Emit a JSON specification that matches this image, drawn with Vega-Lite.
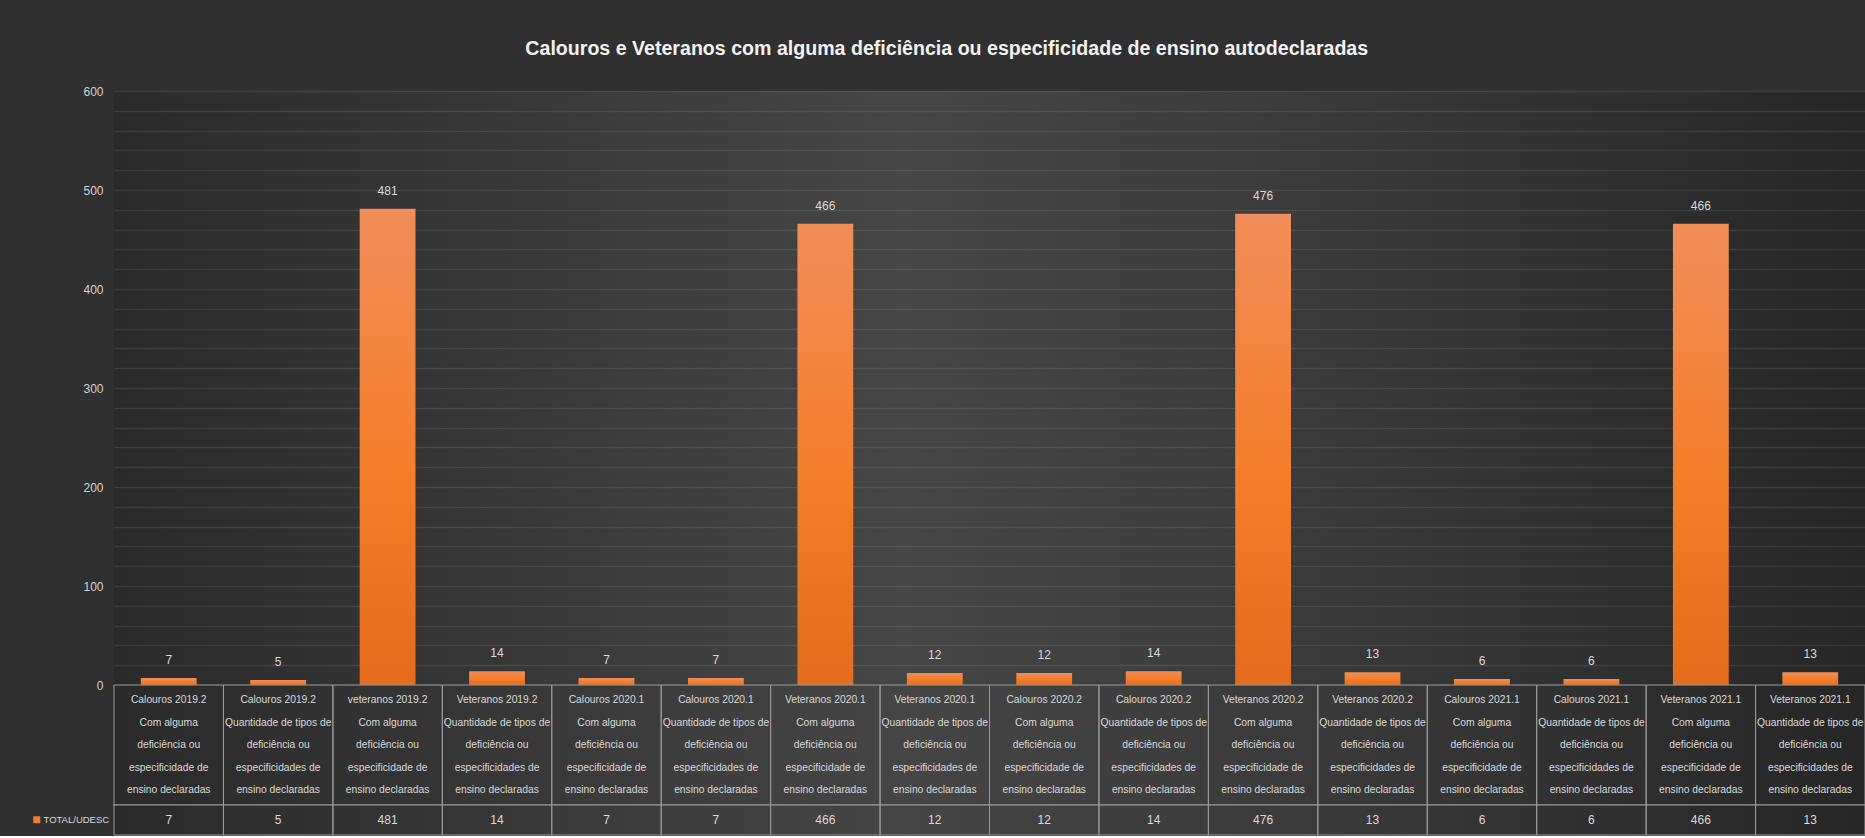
{
  "$schema": "https://vega.github.io/schema/vega-lite/v6.json",
  "background": "#303030",
  "padding": {"left": 28, "top": 38, "right": 0, "bottom": 0},
  "bounds": "flush",
  "title": {
    "text": "Calouros e Veteranos com alguma deficiência ou especificidade de ensino autodeclaradas",
    "anchor": "middle",
    "frame": "bounds",
    "font": "Liberation Sans",
    "fontSize": 19.6,
    "fontWeight": "bold",
    "color": "#f2f2f2",
    "offset": 25.5
  },
  "datasets": {
    "t": [
      {"categoria": "Calouros 2019.2\nCom alguma\ndeficiência ou\nespecificidade de\nensino declaradas", "valor": 7, "serie": "TOTAL/UDESC"},
      {"categoria": "Calouros 2019.2\nQuantidade de tipos de\ndeficiência ou\nespecificidades de\nensino declaradas", "valor": 5, "serie": "TOTAL/UDESC"},
      {"categoria": "veteranos 2019.2\nCom alguma\ndeficiência ou\nespecificidade de\nensino declaradas", "valor": 481, "serie": "TOTAL/UDESC"},
      {"categoria": "Veteranos 2019.2\nQuantidade de tipos de\ndeficiência ou\nespecificidades de\nensino  declaradas", "valor": 14, "serie": "TOTAL/UDESC"},
      {"categoria": "Calouros 2020.1\nCom alguma\ndeficiência ou\nespecificidade de\nensino declaradas", "valor": 7, "serie": "TOTAL/UDESC"},
      {"categoria": "Calouros 2020.1\nQuantidade de tipos de\ndeficiência ou\nespecificidades de\nensino  declaradas", "valor": 7, "serie": "TOTAL/UDESC"},
      {"categoria": "Veteranos 2020.1\nCom alguma\ndeficiência ou\nespecificidade de\nensino declaradas", "valor": 466, "serie": "TOTAL/UDESC"},
      {"categoria": "Veteranos 2020.1\nQuantidade de tipos de\ndeficiência ou\nespecificidades de\nensino  declaradas", "valor": 12, "serie": "TOTAL/UDESC"},
      {"categoria": "Calouros 2020.2\nCom alguma\ndeficiência ou\nespecificidade de\nensino declaradas", "valor": 12, "serie": "TOTAL/UDESC"},
      {"categoria": "Calouros 2020.2\nQuantidade de tipos de\ndeficiência ou\nespecificidades de\nensino  declaradas", "valor": 14, "serie": "TOTAL/UDESC"},
      {"categoria": "Veteranos 2020.2\nCom alguma\ndeficiência ou\nespecificidade de\nensino declaradas", "valor": 476, "serie": "TOTAL/UDESC"},
      {"categoria": "Veteranos 2020.2\nQuantidade de tipos de\ndeficiência ou\nespecificidades de\nensino  declaradas", "valor": 13, "serie": "TOTAL/UDESC"},
      {"categoria": "Calouros 2021.1\nCom alguma\ndeficiência ou\nespecificidade de\nensino declaradas", "valor": 6, "serie": "TOTAL/UDESC"},
      {"categoria": "Calouros 2021.1\nQuantidade de tipos de\ndeficiência ou\nespecificidades de\nensino  declaradas", "valor": 6, "serie": "TOTAL/UDESC"},
      {"categoria": "Veteranos 2021.1\nCom alguma\ndeficiência ou\nespecificidade de\nensino declaradas", "valor": 466, "serie": "TOTAL/UDESC"},
      {"categoria": "Veteranos 2021.1\nQuantidade de tipos de\ndeficiência ou\nespecificidades de\nensino  declaradas", "valor": 13, "serie": "TOTAL/UDESC"}
    ]
  },
  "spacing": 0,
  "resolve": {"scale": {"color": "independent"}, "legend": {"color": "independent"}},
  "config": {
    "font": "Liberation Sans",
    "view": {"stroke": null},
    "concat": {"spacing": 0},
    "legend": {"layout": {"left": {"anchor": "middle"}}}
  },
  "vconcat": [
    {
      "width": 1751,
      "height": 594,
      "data": {"name": "t"},
      "view": {"stroke": null, "fill": {"gradient": "linear", "x1": 0, "y1": 0.5, "x2": 1, "y2": 0.5, "stops": [{"offset": 0, "color": "#2a2a2a"}, {"offset": 0.25, "color": "#393939"}, {"offset": 0.45, "color": "#464646"}, {"offset": 0.7, "color": "#393939"}, {"offset": 1, "color": "#262626"}]}},
      "encoding": {
        "x": {"field": "categoria", "type": "nominal", "sort": null, "axis": null, "scale": {"paddingInner": 0, "paddingOuter": 0}},
        "y": {
          "field": "valor",
          "type": "quantitative",
          "scale": {"domain": [0, 600], "nice": false},
          "axis": {
            "title": null,
            "values": [0, 20, 40, 60, 80, 100, 120, 140, 160, 180, 200, 220, 240, 260, 280, 300, 320, 340, 360, 380, 400, 420, 440, 460, 480, 500, 520, 540, 560, 580, 600],
            "labelExpr": "datum.value % 100 === 0 ? datum.label : ''",
            "domain": false,
            "ticks": false,
            "grid": true,
            "gridColor": "#ffffff",
            "gridOpacity": 0.09,
            "gridWidth": 1.3,
            "labelPadding": 11,
            "labelFontSize": 12,
            "labelColor": "#d0d0d0"
          }
        }
      },
      "layer": [
        {
          "mark": {
            "type": "bar",
            "width": {"band": 0.51},
            "color": {"gradient": "linear", "x1": 0, "y1": 0, "x2": 0, "y2": 1, "stops": [{"offset": 0, "color": "#F18D59"}, {"offset": 0.55, "color": "#F47E2A"}, {"offset": 1, "color": "#E46C1C"}]}
          }
        },
        {
          "mark": {"type": "text", "dy": -14, "baseline": "alphabetic", "fontSize": 12, "color": "#d9d9d9"},
          "encoding": {"text": {"field": "valor", "type": "quantitative"}}
        }
      ]
    },
    {
      "width": 1751,
      "height": 120,
      "data": {"name": "t"},
      "view": {"stroke": null, "fill": {"gradient": "linear", "x1": 0, "y1": 0.5, "x2": 1, "y2": 0.5, "stops": [{"offset": 0, "color": "#2a2a2a"}, {"offset": 0.25, "color": "#393939"}, {"offset": 0.45, "color": "#454545"}, {"offset": 0.7, "color": "#393939"}, {"offset": 1, "color": "#262626"}]}},
      "encoding": {
        "x": {"field": "categoria", "type": "nominal", "sort": null, "axis": null, "scale": {"paddingInner": 0, "paddingOuter": 0}}
      },
      "layer": [
        {"mark": {"type": "rect", "fillOpacity": 0, "stroke": "#9a9a9a", "strokeWidth": 1}},
        {
          "mark": {"type": "text", "lineBreak": "\n", "lineHeight": 22.5, "fontSize": 10.3, "color": "#d9d9d9", "baseline": "middle", "dy": -45},
          "encoding": {"text": {"field": "categoria", "type": "nominal"}}
        }
      ]
    },
    {
      "width": 1751,
      "height": 30,
      "data": {"name": "t"},
      "view": {"stroke": null, "fill": {"gradient": "linear", "x1": 0, "y1": 0.5, "x2": 1, "y2": 0.5, "stops": [{"offset": 0, "color": "#2a2a2a"}, {"offset": 0.25, "color": "#393939"}, {"offset": 0.45, "color": "#454545"}, {"offset": 0.7, "color": "#393939"}, {"offset": 1, "color": "#262626"}]}},
      "encoding": {
        "x": {"field": "categoria", "type": "nominal", "sort": null, "axis": null, "scale": {"paddingInner": 0, "paddingOuter": 0}}
      },
      "layer": [
        {
          "mark": {"type": "rect", "fillOpacity": 0, "stroke": "#9a9a9a", "strokeWidth": 1},
          "encoding": {
            "color": {
              "field": "serie",
              "type": "nominal",
              "scale": {"range": ["#ED7D31"]},
              "legend": {
                "orient": "left",
                "offset": 0,
                "title": null,
                "padding": 4,
                "symbolType": "square",
                "symbolSize": 49,
                "symbolOpacity": 1,
                "symbolStrokeWidth": 0,
                "labelFontSize": 9.5,
                "labelColor": "#d9d9d9",
                "labelOffset": 2,
                "encode": {"symbols": {"update": {"fillOpacity": {"value": 1}, "strokeWidth": {"value": 0}}}}
              }
            }
          }
        },
        {
          "mark": {"type": "text", "fontSize": 12, "color": "#d9d9d9", "baseline": "middle"},
          "encoding": {"text": {"field": "valor", "type": "quantitative"}}
        }
      ]
    }
  ]
}
